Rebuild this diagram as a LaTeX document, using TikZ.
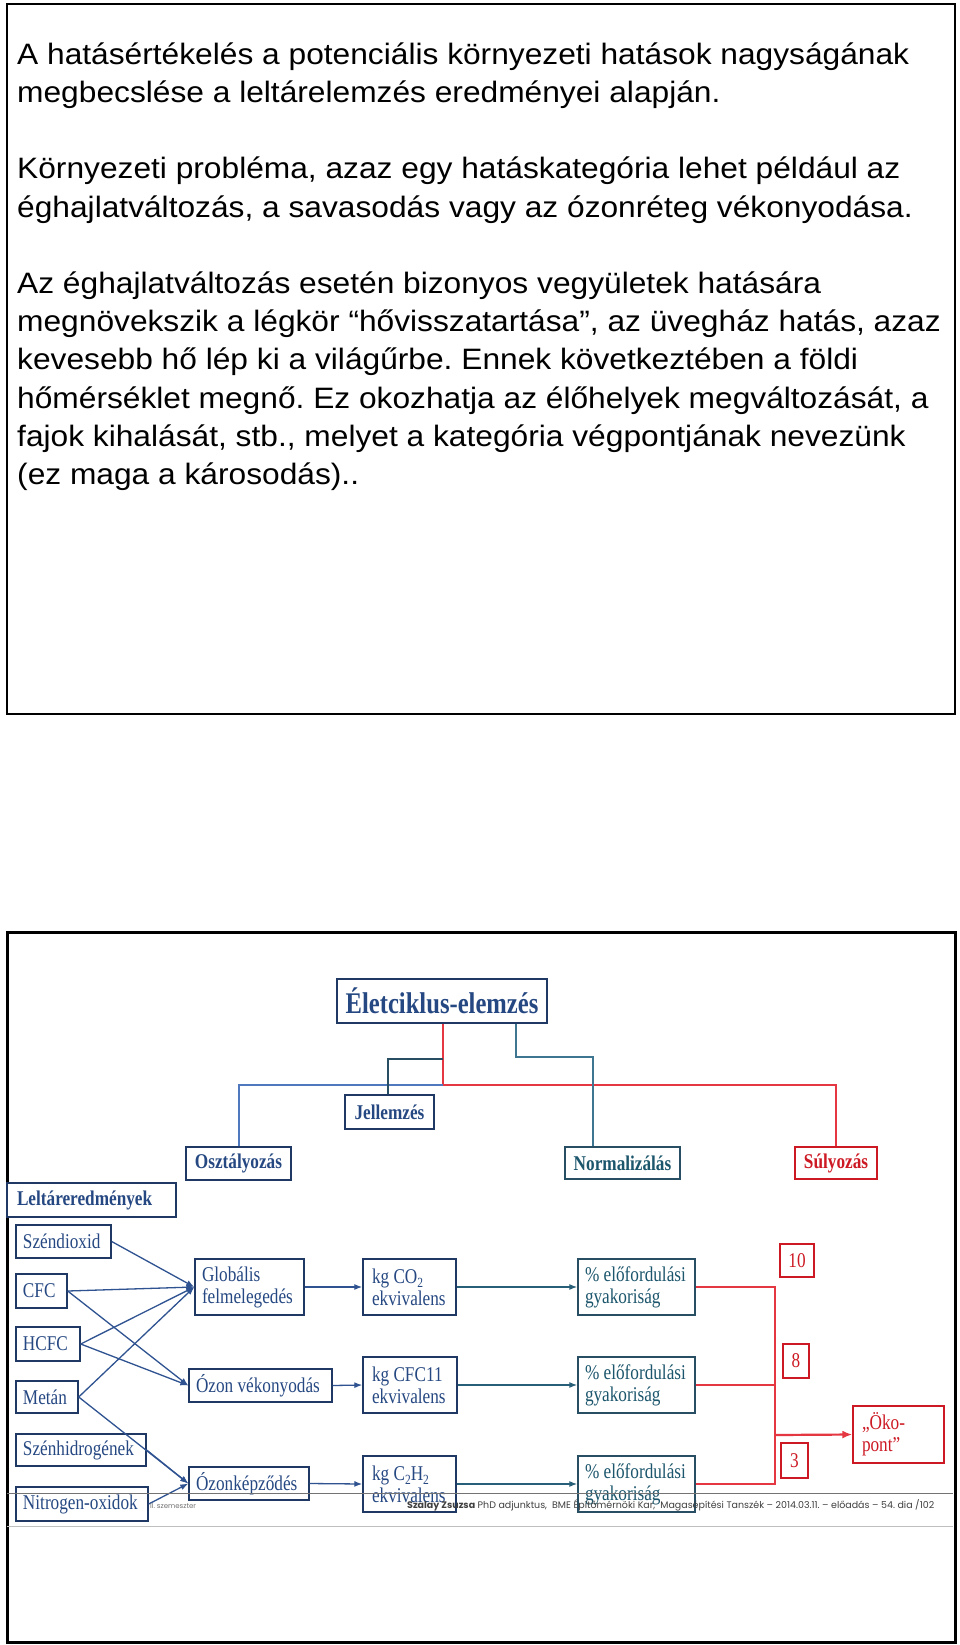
\documentclass[tikz,border=0pt]{standalone}
\usepackage{fontspec}
\usepackage{graphicx}
\setmainfont{Liberation Sans}
\newfontfamily\txtfont[FakeStretch=1.075]{Liberation Sans}
\newfontfamily\dgfont[FakeStretch=0.82]{Liberation Serif}
\newfontfamily\footfont{Poppins}
\usetikzlibrary{arrows.meta}
\definecolor{navy}{RGB}{31,56,100}
\definecolor{tblue}{RGB}{38,72,130}
\definecolor{tteal}{RGB}{28,86,108}
\definecolor{lteal}{RGB}{62,118,145}
\definecolor{ldark}{RGB}{40,78,100}
\definecolor{lblue}{RGB}{80,120,190}
\definecolor{lred}{RGB}{228,55,65}
\definecolor{tred}{RGB}{205,25,35}
\definecolor{abl}{RGB}{47,82,145}
\definecolor{atl}{RGB}{40,95,120}
\newcommand\dsub[1]{\raisebox{-0.22em}{\fontsize{14}{14}\selectfont #1}}
\newcommand\lb[2]{\makebox[#1][l]{#2}}
\frenchspacing
\begin{document}
\begin{tikzpicture}[x=1pt,y=-1pt,
  bx/.style={draw=navy,line width=1.4pt,fill=white,inner xsep=7pt,inner ysep=0pt,align=left,
    font=\dgfont\fontsize{21}{22}\selectfont,text=tblue},
  hd/.style={bx,align=center,font=\dgfont\bfseries\fontsize{21}{22}\selectfont},
  arr/.style={draw=abl,line width=1.3pt,-{Latex[length=8pt,width=6pt]}},
  arrt/.style={draw=atl,line width=1.3pt,-{Latex[length=8pt,width=6pt]}},
  tl/.style={anchor=base west,inner sep=0pt,font=\txtfont\fontsize{29.5}{36}\selectfont},
  rl/.style={draw=lred,line width=1.8pt}]
\fill[white] (0,0) rectangle (960,1645);
\useasboundingbox (0,0) rectangle (960,1645);

% ---------- top frame ----------
\draw[line width=2.5pt] (7,4) rectangle (955,714);
\node[tl] (t1) at (17,64.3) {A hatásértékelés a potenciális környezeti hatások nagyságának};
\node[tl] (t2) at (17,102.5) {megbecslése a leltárelemzés eredményei alapján.};
\node[tl] (t3) at (17,178.9) {Környezeti probléma, azaz egy hatáskategória lehet például az};
\node[tl] (t4) at (17,217.1) {éghajlatváltozás, a savasodás vagy az ózonréteg vékonyodása.};
\node[tl] (t5) at (17,293.5) {Az éghajlatváltozás esetén bizonyos vegyületek hatására};
\node[tl] (t6) at (17,331.7) {megnövekszik a légkör “hővisszatartása”, az üvegház hatás, azaz};
\node[tl] (t7) at (17,369.9) {kevesebb hő lép ki a világűrbe. Ennek következtében a földi};
\node[tl] (t8) at (17,408.1) {hőmérséklet megnő. Ez okozhatja az élőhelyek megváltozását, a};
\node[tl] (t9) at (17,446.3) {fajok kihalását, stb., melyet a kategória végpontjának nevezünk};
\node[tl] (t10) at (17,484.5) {(ez maga a károsodás)..};

% ---------- bottom frame ----------
\draw[line width=3pt] (7,932) rectangle (955,1642);

% hierarchy connectors
\coordinate (j1) at (443,1085);
\coordinate (j2) at (443,1059);
\coordinate (j3) at (516,1023);
\draw[rl,line width=1.6pt] (443,1023) -- (j1) -- (836,1085) -- (836,1147);
\draw[draw=lblue,line width=1.6pt] (j1) -- (239,1085) -- (239,1147);
\draw[draw=ldark,line width=1.5pt] (j2) -- (388,1059) -- (388,1095);
\draw[draw=lteal,line width=2pt] (j3) -- (516,1057) -- (593,1057) -- (593,1147);

\node[hd,minimum width=210pt,minimum height=44pt,font=\dgfont\bfseries\fontsize{30}{30}\selectfont] (life) at (442,1001) {Életciklus-elemzés};
\node[hd,minimum width=89pt,minimum height=34pt] (jell) at (389.5,1112) {Jellemzés};
\node[hd,minimum width=105pt,minimum height=33pt] (oszt) at (238.5,1163.5) {Osztályozás};
\node[hd,minimum width=115pt,minimum height=32pt,draw=ldark,text=tteal] (norm) at (622.5,1163) {Normalizálás};
\node[hd,minimum width=82pt,minimum height=32pt,draw=tred,text=tred] (suly) at (836,1163) {Súlyozás};
\node[hd,align=left,inner xsep=10pt,minimum width=169pt,minimum height=34pt] (lelt) at (91.5,1200) {\lb{149pt}{Leltáreredmények}};

% inventory boxes
\node[bx,minimum height=33pt] (szen) at (63.5,1241.5) {\lb{81pt}{Széndioxid}};
\node[bx,minimum height=34pt] (cfc) at (41.5,1291) {\lb{37pt}{CFC}};
\node[bx,minimum height=34pt] (hcfc) at (48,1344) {\lb{50pt}{HCFC}};
\node[bx,minimum height=32pt] (metan) at (47,1397) {\lb{48pt}{Metán}};
\node[bx,minimum height=32pt] (szenh) at (81,1450) {\lb{116pt}{Szénhidrogének}};
\node[bx,minimum height=34pt] (nitro) at (82,1504) {\lb{118pt}{Nitrogen-oxidok}};

% categories
\node[bx,minimum height=56pt] (glob) at (249.5,1287) {\lb{95pt}{Globális}\\\lb{95pt}{felmelegedés}};
\node[bx,minimum height=33pt] (ozonv) at (260.5,1385.5) {\lb{129pt}{Ózon vékonyodás}};
\node[bx,minimum height=33pt] (ozonk) at (249,1483.5) {\lb{106pt}{Ózonképződés}};

% units
\node[bx,inner xsep=9pt,minimum height=56pt] (kg1) at (409.5,1287) {\lb{75pt}{kg CO\dsub{2}}\\\lb{75pt}{ekvivalens}};
\node[bx,inner xsep=9pt,minimum height=56pt] (kg2) at (410,1385) {\lb{76pt}{kg CFC11}\\\lb{76pt}{ekvivalens}};
\node[bx,inner xsep=9pt,minimum height=56pt] (kg3) at (409.5,1484) {\lb{75pt}{kg C\dsub{2}H\dsub{2}}\\\lb{75pt}{ekvivalens}};

% normalized
\node[bx,draw=ldark,text=tteal,minimum height=56pt] (p1) at (636.5,1287) {\lb{103pt}{\% előfordulási}\\\lb{103pt}{gyakoriság}};
\node[bx,draw=ldark,text=tteal,minimum height=56pt] (p2) at (636.5,1385) {\lb{103pt}{\% előfordulási}\\\lb{103pt}{gyakoriság}};
\node[bx,draw=ldark,text=tteal,minimum height=56pt] (p3) at (636.5,1484) {\lb{103pt}{\% előfordulási}\\\lb{103pt}{gyakoriság}};

% weights
\node[hd,draw=tred,text=tred,font=\dgfont\fontsize{21}{22}\selectfont,inner xsep=0pt,minimum width=34pt,minimum height=33pt] (n10) at (797,1260.5) {10};
\node[hd,draw=tred,text=tred,font=\dgfont\fontsize{21}{22}\selectfont,inner xsep=0pt,minimum width=26pt,minimum height=34pt] (n8) at (796,1361) {8};
\node[hd,draw=tred,text=tred,font=\dgfont\fontsize{21}{22}\selectfont,inner xsep=0pt,minimum width=27pt,minimum height=35pt] (n3) at (794.5,1460.5) {3};
\node[bx,draw=tred,text=tred,inner xsep=9pt,minimum height=57pt] (oko) at (898.5,1434.5) {\lb{73pt}{„Öko-}\\\lb{73pt}{pont”}};

% inventory -> category arrows
\draw[arr] (szen.east) -- (glob.west);
\draw[arr] (cfc.east) -- (glob.west);
\draw[arr] (hcfc.east) -- (glob.west);
\draw[arr] (metan.east) -- (glob.west);
\draw[arr] (cfc.east) -- (ozonv.west);
\draw[arr] (hcfc.east) -- (ozonv.west);
\draw[arr] (metan.east) -- (ozonk.west);
\draw[arr] (szenh.east) -- (ozonk.west);
\draw[arr] (nitro.east) -- (ozonk.west);

% category -> unit
\draw[arr] (glob.east) -- (kg1.west);
\draw[arr] (ozonv.east) -- (kg2.west);
\draw[arr] (ozonk.east) -- (kg3.west);

% unit -> normalized
\draw[arrt] (kg1.east) -- (p1.west);
\draw[arrt] (kg2.east) -- (p2.west);
\draw[arrt] (kg3.east) -- (p3.west);

% weighting
\coordinate (r1) at (775,1287);
\coordinate (r3) at (775,1484);
\coordinate (rm) at (775,1435);
\draw[rl] (p1.east) -- (r1) -- (r3) -- (p3.east);
\draw[rl] (p2.east) -- (p2.east -| r1);
\draw[rl,line width=2.2pt,-{Latex[length=10pt,width=8pt]}] (rm) -- (oko.west);

% footer
\draw[draw=black!55,line width=1pt] (7,1493) -- (953,1493);
\draw[draw=black!25,line width=1pt] (7,1526) -- (953,1526);
\node[anchor=base west,inner sep=0pt,text=black!55,font=\footfont\fontsize{7}{8}\selectfont] (sem) at (150,1508) {II. szemeszter};
\node[anchor=base west,inner sep=0pt,text=black!75] (foot) at (407,1508)
  {\resizebox{527pt}{\height}{\footfont\fontsize{9.5}{10}\selectfont\textbf{Szalay Zsuzsa} PhD adjunktus, \ BME Építőmérnöki Kar, \ Magasépítési Tanszék – 2014.03.11. – előadás – 54. dia /102}};
\end{tikzpicture}
\end{document}
